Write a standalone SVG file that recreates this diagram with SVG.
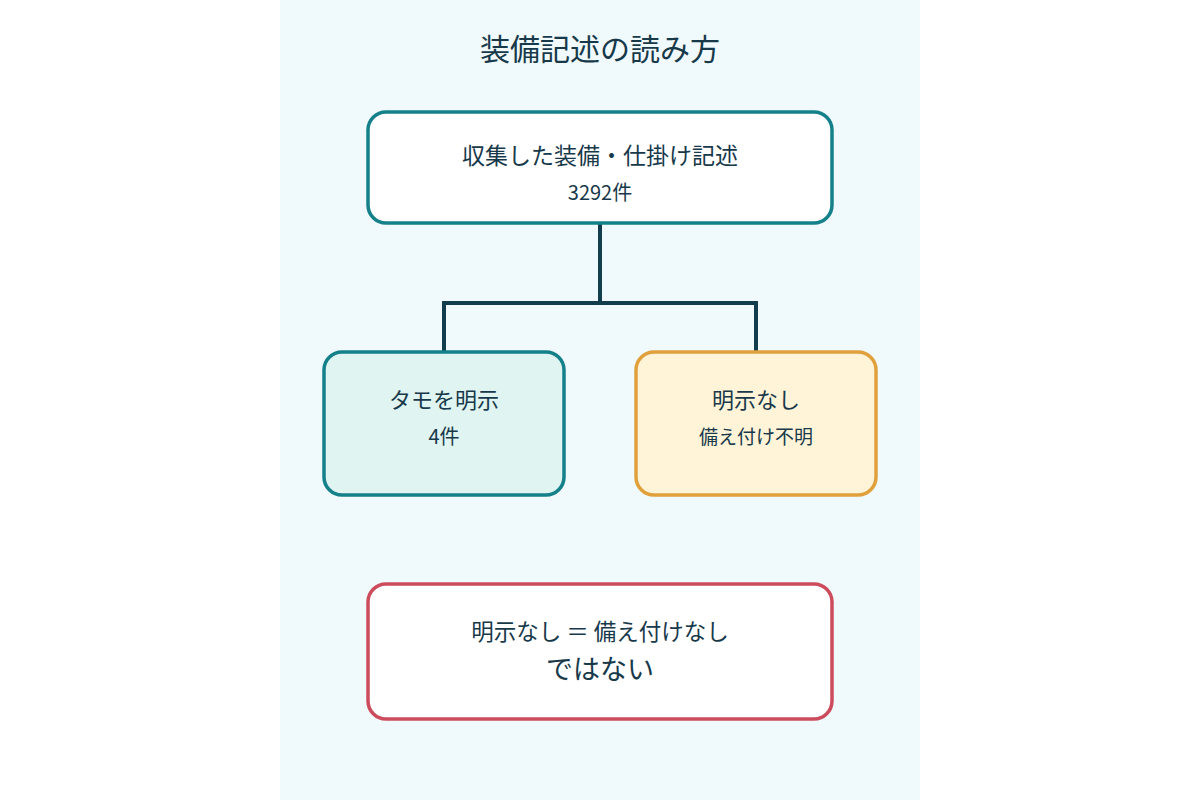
<svg xmlns="http://www.w3.org/2000/svg" width="1200" height="800" viewBox="0 0 1200 800">
<style>
text{font-family:"Noto Sans CJK JP","Noto Sans",sans-serif;fill:#17394a;text-anchor:middle}
.b{stroke-width:3.5}
</style>
<rect width="1200" height="800" fill="#ffffff"/>
<rect x="280" y="0" width="640" height="800" fill="#f0f9fb"/>
<text x="600" y="60" font-size="30">装備記述の読み方</text>
<g id="connectors" fill="none" stroke="#123d4c" stroke-width="4">
<path d="M600 224V303H444V352M600 303H756V352"/>
</g>
<g id="n-all">
<rect class="b" x="368" y="112" width="464" height="111" rx="18" fill="#fff" stroke="#14808a"/>
<text x="600" y="164" font-size="23">収集した装備・仕掛け記述</text>
<text x="600" y="200" font-size="20">3292件</text>
</g>
<g id="n-tamo">
<rect class="b" x="324" y="352" width="240" height="143" rx="18" fill="#e0f4f1" stroke="#14808a"/>
<text x="444" y="408" font-size="22">タモを明示</text>
<text x="444" y="444" font-size="20">4件</text>
</g>
<g id="n-none">
<rect class="b" x="636" y="352" width="240" height="143" rx="18" fill="#fff4d8" stroke="#e0a03c"/>
<text x="756" y="408" font-size="22">明示なし</text>
<text x="756" y="444" font-size="19">備え付け不明</text>
</g>
<g id="n-note">
<rect class="b" x="368" y="584" width="464" height="135" rx="18" fill="#fff" stroke="#cc4c5e"/>
<text x="600" y="640" font-size="22.5">明示なし ＝ 備え付けなし</text>
<text x="600" y="679" font-size="27">ではない</text>
</g>
</svg>
